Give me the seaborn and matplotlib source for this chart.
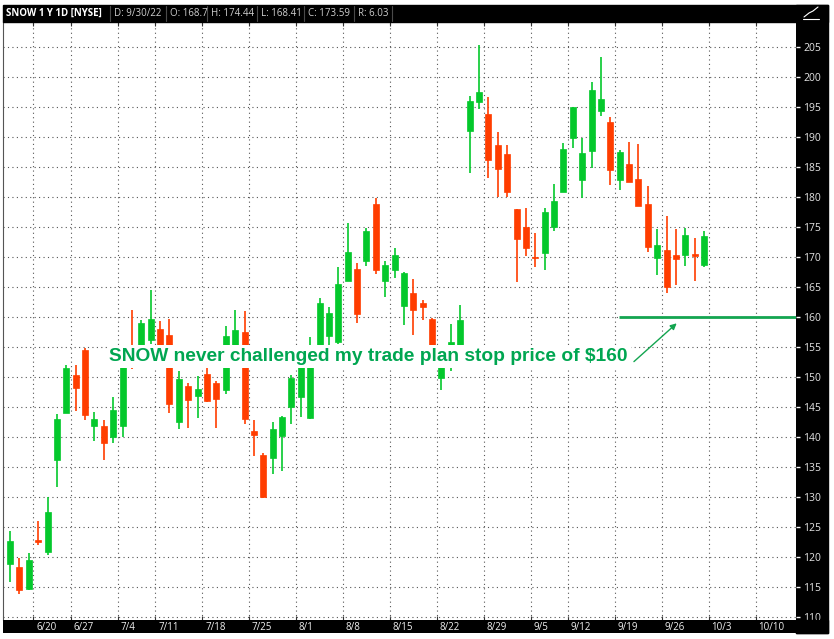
import numpy as np
import pandas as pd
import matplotlib
matplotlib.use("Agg")
import matplotlib.pyplot as plt
import seaborn as sns
from matplotlib.patches import Rectangle
from matplotlib.lines import Line2D

# SNOW daily candles, 6/15/22 - 9/30/22
opens = [118.8, 118.3, 114.7, 122.7, 120.9, 136.2, 144.0, 150.4, 154.6, 141.8,
         141.8, 140.1, 141.9, 155.0, 153.0, 156.2, 158.1, 157.1, 142.5, 148.6,
         146.8, 150.6, 149.0, 147.9, 153.6, 157.6, 141.1, 137.1, 136.5, 140.2,
         145.0, 146.7, 143.2, 154.0, 156.9, 155.8, 166.1, 168.1, 169.4, 178.8,
         166.1, 167.8, 161.9, 164.0, 162.3, 159.7, 149.9, 153.4, 155.0, 191.1,
         195.8, 193.9, 188.7, 187.2, 178.0, 175.0, 170.0, 170.7, 175.1, 180.8,
         189.8, 182.9, 187.7, 194.4, 192.5, 182.9, 185.5, 183.1, 178.9, 169.8,
         171.2, 170.3, 170.3, 170.4, 168.7]
highs = [124.4, 119.8, 120.7, 126.0, 130.0, 143.8, 152.0, 152.1, 154.8, 144.2,
         142.9, 146.7, 153.5, 161.2, 159.6, 164.6, 159.3, 159.7, 151.1, 149.0,
         150.2, 151.5, 149.3, 158.6, 161.2, 161.1, 142.9, 137.4, 142.6, 143.5,
         150.3, 153.4, 156.7, 163.2, 161.7, 168.3, 175.7, 169.0, 174.8, 179.8,
         169.4, 171.6, 167.6, 166.3, 162.8, 159.9, 152.6, 158.9, 162.0, 196.8,
         205.4, 196.7, 190.9, 188.7, 178.0, 178.2, 174.1, 178.2, 182.2, 189.0,
         195.1, 189.9, 199.2, 203.4, 193.3, 187.8, 189.2, 188.8, 181.9, 174.7,
         176.8, 174.7, 174.9, 173.2, 174.44]
lows = [115.9, 113.9, 114.5, 122.0, 120.3, 131.7, 144.0, 144.3, 142.9, 139.3,
        136.2, 139.1, 140.1, 151.4, 152.4, 155.6, 152.0, 144.1, 141.3, 141.6,
        143.2, 145.8, 141.5, 147.2, 152.6, 142.2, 136.9, 129.8, 133.9, 134.4,
        142.2, 143.4, 143.0, 153.5, 155.3, 155.5, 166.1, 159.0, 168.6, 167.2,
        163.4, 166.6, 158.7, 157.1, 159.5, 152.8, 147.8, 151.0, 154.4, 184.0,
        194.7, 183.2, 180.1, 180.1, 165.8, 170.2, 168.4, 167.8, 174.3, 180.8,
        188.2, 179.8, 184.9, 193.6, 182.1, 181.2, 182.6, 178.6, 170.8, 167.1,
        164.1, 165.4, 168.6, 166.1, 168.41]
closes = [122.7, 114.6, 119.6, 122.5, 127.5, 143.1, 151.5, 148.2, 143.7, 143.1,
          139.0, 144.6, 152.8, 152.3, 159.1, 159.7, 153.2, 145.5, 149.7, 146.2,
          148.1, 146.1, 146.4, 156.9, 157.8, 143.1, 140.3, 130.0, 141.4, 143.3,
          149.9, 152.6, 154.4, 162.3, 160.7, 165.5, 170.8, 160.6, 174.3, 167.9,
          168.7, 170.4, 167.3, 161.2, 161.7, 153.8, 152.0, 155.8, 159.6, 196.1,
          197.6, 186.2, 184.7, 180.8, 173.1, 171.5, 169.8, 177.6, 179.4, 188.1,
          195.1, 187.3, 197.9, 196.3, 184.6, 187.6, 182.6, 178.6, 171.7, 172.1,
          165.0, 169.7, 173.7, 170.2, 173.59]

week_labels = ["6/20", "6/27", "7/4", "7/11", "7/18", "7/25", "8/1", "8/8", "8/15",
               "8/22", "8/29", "9/5", "9/12", "9/19", "9/26", "10/3", "10/10"]
price_ticks = list(range(110, 206, 5))
stop_price = 160
note = "SNOW never challenged my trade plan stop price of $160"
header_cells = ["D: 9/30/22", "O: 168.7", "H: 174.44", "L: 168.41", "C: 173.59", "R: 6.03"]

# trading calendar (positions on the x axis)
days = pd.bdate_range("2022-06-15", "2022-10-14", freq="C",
                      holidays=["2022-06-20", "2022-07-04", "2022-09-05"])
df = pd.DataFrame({"open": opens, "high": highs, "low": lows, "close": closes})
df["pos"] = np.arange(len(df))
df["up"] = df["close"] >= df["open"]

week_pos = []
for lab in week_labels:
    m, d = lab.split("/")
    monday = pd.Timestamp(2022, int(m), int(d))
    week_pos.append(int(np.searchsorted(days, monday)) - 0.5)

sns.set_style("white")
plt.rcParams["font.family"] = ["Open Sans", "DejaVu Sans"]

W, H = 834, 639
fig = plt.figure(figsize=(W / 100, H / 100), dpi=100)
fig.patch.set_facecolor("white")

def fx(px):
    return px / W

def fy(py):
    return 1 - py / H

ax = fig.add_axes([fx(3), fy(620), fx(793), 598 / H])
ax.set_xlim(-0.75, 83.8)
ax.set_ylim(109.55, 209.2)

GREEN = "#04c82c"
RED = "#ff3d00"
colors = np.where(df["up"], GREEN, RED)

# wicks
ax.vlines(df["pos"], df["low"], df["high"], colors=colors, lw=1.2, zorder=3)
# bodies
body_lo = df[["open", "close"]].min(axis=1)
body_h = (df["close"] - df["open"]).abs().clip(lower=0.3)
ax.bar(df["pos"], body_h, bottom=body_lo, width=0.64, color=colors,
       edgecolor=colors, linewidth=0.5, zorder=4)

# grid
ax.set_yticks(price_ticks)
ax.set_xticks(week_pos)
ax.grid(True, color="#555555", ls=(0, (1, 3)), lw=0.8)
ax.set_axisbelow(True)
ax.yaxis.tick_right()
ax.tick_params(axis="y", colors="white", labelcolor="#e4e4e4", length=3, width=1,
               pad=2, labelsize=7.5)
ax.tick_params(axis="x", labelbottom=False, bottom=True, top=True, direction="in",
               length=3, color="#333333")
for s in ["top", "right", "bottom"]:
    ax.spines[s].set_visible(False)
ax.spines["left"].set_color("#555555")

# stop line, note and arrow
ax.hlines(stop_price, 64.9, 83.8, color="#13a550", lw=2, zorder=5)
ax.text(10.6, 153.4, note, ha="left", va="center", fontsize=13.8, fontweight="bold",
        color="#00a651", family=["Liberation Sans", "DejaVu Sans"], zorder=6,
        bbox=dict(boxstyle="square,pad=0.15", fc="white", ec="none"))
ax.annotate("", xy=(71.3, 159.3), xytext=(66.3, 152.3),
            arrowprops=dict(arrowstyle="-|>", color="#13a550", lw=1,
                            mutation_scale=9), zorder=6)

# right price panel and top bar
fig.add_artist(Rectangle((fx(796), fy(633)), fx(32), 628 / H, transform=fig.transFigure,
                         color="black", zorder=-1))
fig.add_artist(Rectangle((fx(3), fy(22)), fx(825), 17 / H, transform=fig.transFigure,
                         color="black", zorder=4))
fig.add_artist(Rectangle((fx(796), fy(633)), fx(32), 13 / H, transform=fig.transFigure,
                         color="black", zorder=4))

# bottom date bar
bot = fig.add_axes([fx(3), fy(633), fx(793), 13 / H], facecolor="black", zorder=3)
bot.set_xlim(ax.get_xlim())
bot.set_ylim(0, 1)
bot.set_xticks([])
bot.set_yticks([])
for s in bot.spines.values():
    s.set_visible(False)
for p, lab in zip(week_pos, week_labels):
    bot.annotate(lab, xy=(p, 0.45), xycoords=("data", "axes fraction"),
                 xytext=(2, 0), textcoords="offset points", ha="left", va="center",
                 color="#f0f0f0", fontsize=7)

# header
fig.text(fx(6), fy(13.5), "SNOW 1 Y 1D [NYSE]", color="white", fontsize=7,
         fontweight="bold", va="center", ha="left", zorder=5)
cell_x = [114, 170, 211, 261, 308, 358]
sep_x = [110, 166, 207, 257, 304, 354, 392]
for x, t in zip(cell_x, header_cells):
    fig.text(fx(x), fy(13.5), t, color="#cfcfcf", fontsize=7, va="center", ha="left",
             zorder=5)
for x in sep_x:
    fig.add_artist(Line2D([fx(x), fx(x)], [fy(6), fy(21)], color="#4a4a4a", lw=0.8,
                          transform=fig.transFigure, zorder=5))
# small chart-style icon top right
fig.add_artist(Line2D([fx(804), fx(809), fx(813), fx(818)], [fy(17), fy(13), fy(11), fy(7)],
                      color="white", lw=0.8, transform=fig.transFigure, zorder=5))
fig.add_artist(Line2D([fx(803), fx(819)], [fy(19), fy(19)], color="white", lw=0.8,
                      transform=fig.transFigure, zorder=5))

fig.savefig("out.png", dpi=100)
